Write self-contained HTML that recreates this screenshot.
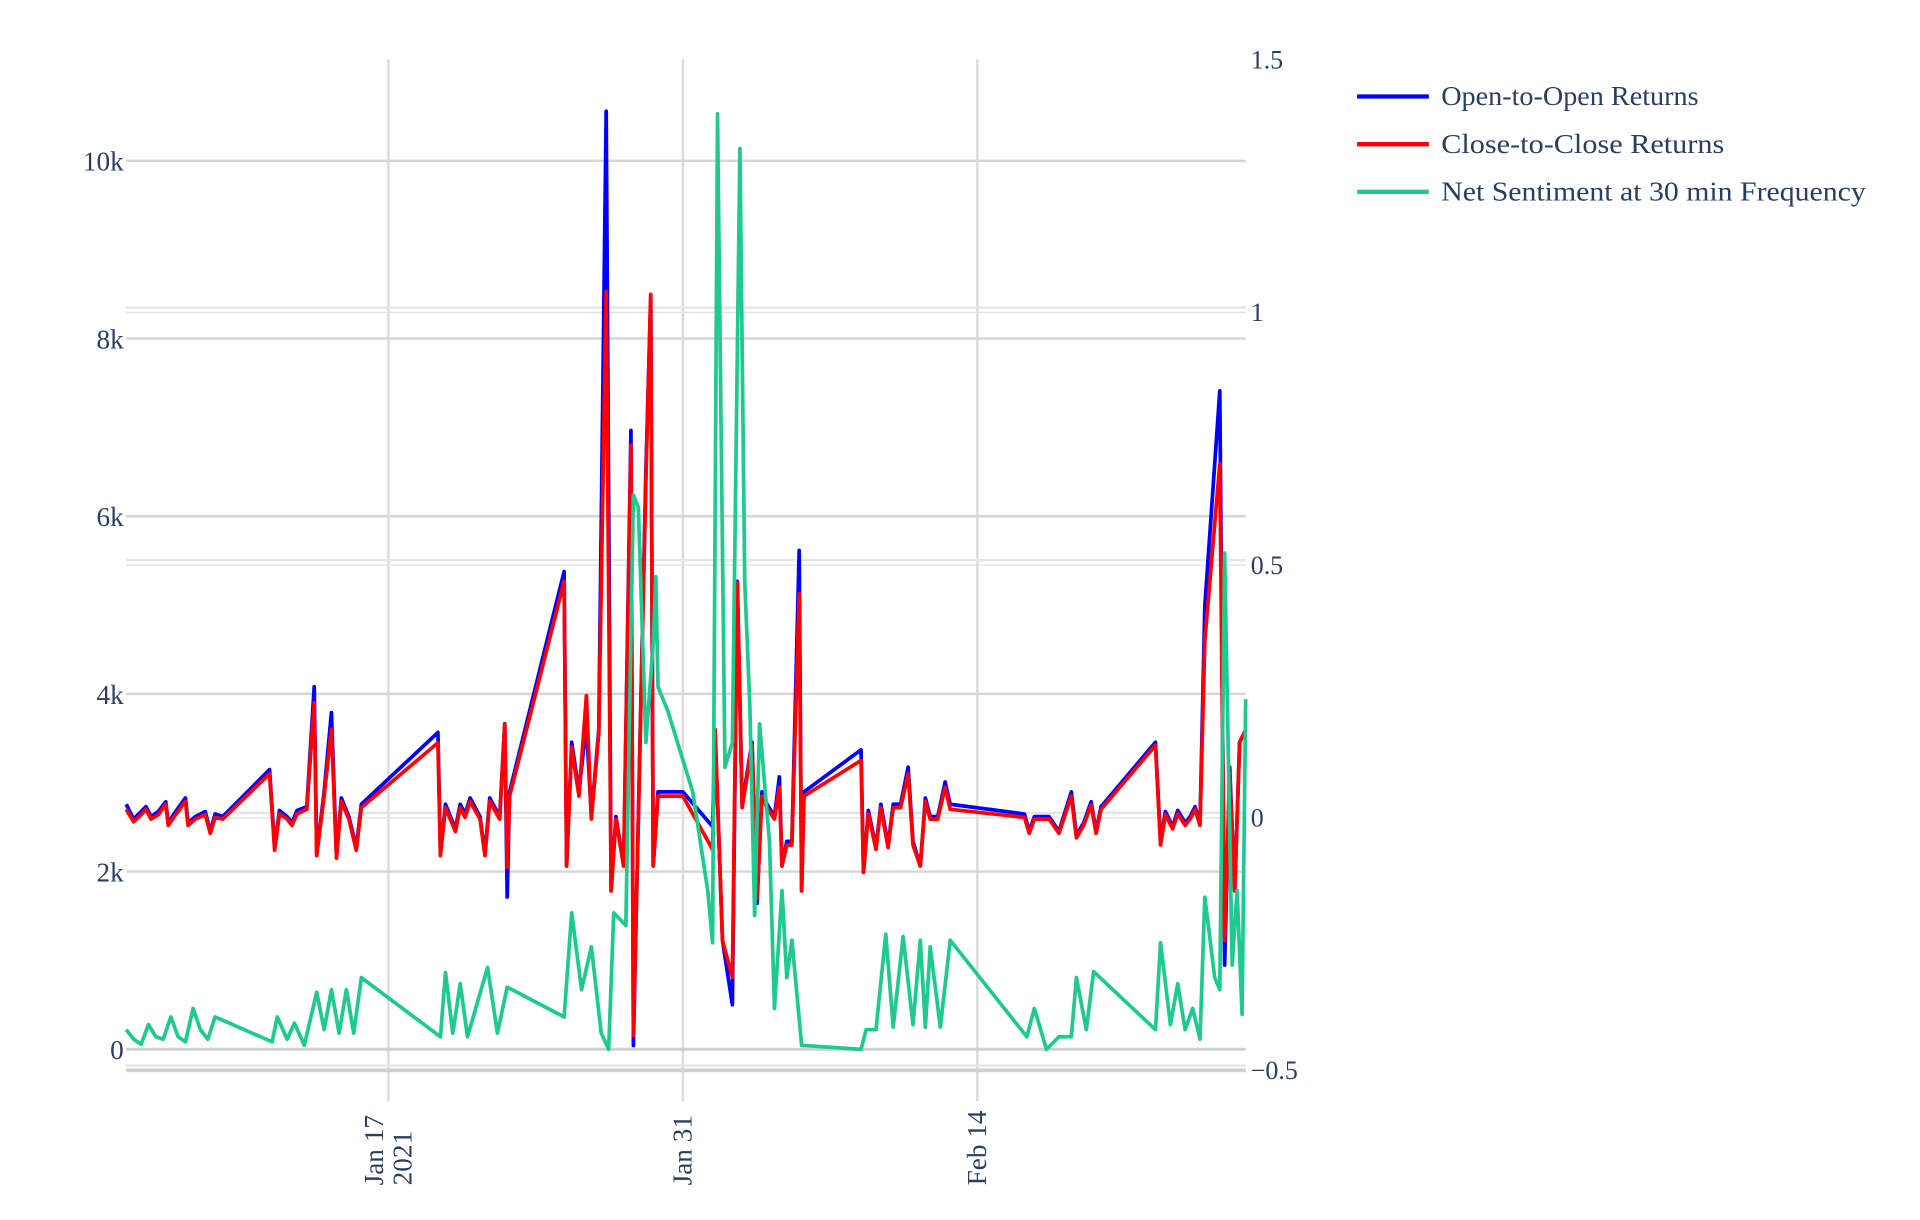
<!DOCTYPE html>
<html><head><meta charset="utf-8"><style>
html,body{margin:0;padding:0;background:#fff;width:1920px;height:1220px;overflow:hidden}
svg text{font-family:"Liberation Serif",serif;fill:#2a3f5f}
</style></head><body>
<svg id="chart" width="1920" height="1220" viewBox="0 0 1552 986" preserveAspectRatio="none" xmlns="http://www.w3.org/2000/svg">
<g id="grid"></g>
<g id="axes"></g>
<g id="series"></g>
<g id="legend"></g>
</svg>
<script>
// day-of-year (Jan 17 = 17, Jan 31 = 31, Feb 14 = 45)
const retDays=[4.53,4.88,5.24,5.47,5.71,6.06,6.41,6.53,6.88,7.35,7.47,7.82,8.29,8.53,8.76,9.12,11.35,11.59,11.82,12.18,12.41,12.65,13.12,13.47,13.59,13.94,14.29,14.53,14.76,15.12,15.47,15.71,19.35,19.47,19.71,20.18,20.41,20.65,20.88,21.35,21.59,21.82,22.29,22.53,22.65,22.76,25.35,25.47,25.71,26.06,26.41,26.65,27.0,27.35,27.59,27.82,28.18,28.53,28.65,28.88,29.24,29.47,29.59,29.82,31.0,32.41,32.53,32.88,33.35,33.59,33.82,34.29,34.53,34.76,35.0,35.35,35.59,35.71,35.94,36.18,36.53,36.65,36.76,39.47,39.59,39.82,40.18,40.41,40.76,41.0,41.35,41.71,41.94,42.29,42.53,42.76,43.12,43.47,43.71,47.24,47.47,47.71,48.41,48.88,49.47,49.71,50.06,50.41,50.65,50.88,53.47,53.71,53.94,54.29,54.53,54.88,55.12,55.35,55.59,55.82,56.53,56.76,57.0,57.24,57.47,57.76];
const openVals=[2758,2591,2675,2730,2619,2675,2786,2549,2675,2828,2549,2619,2675,2452,2647,2619,3148,2271,2688,2619,2549,2688,2730,4081,2201,2897,3789,2173,2828,2619,2271,2758,3566,2201,2758,2480,2758,2647,2828,2619,2201,2828,2619,3664,1713,2897,5377,2062,3455,2897,3664,2619,3594,10559,1783,2619,2062,6965,42,2619,6519,8469,2062,2897,2897,2507,3594,1226,501,5266,2758,3455,1644,2897,2758,2619,3065,2062,2340,2340,5614,1783,2897,3371,1992,2688,2271,2758,2298,2758,2758,3176,2340,2062,2828,2619,2619,3009,2758,2647,2452,2619,2619,2452,2897,2410,2549,2786,2452,2730,3455,2340,2675,2507,2688,2549,2619,2730,2549,4987,7411,947,3176,1783,3455,3594];
const closeVals=[2700,2560,2640,2700,2590,2640,2760,2520,2640,2790,2520,2590,2640,2430,2610,2590,3100,2240,2650,2590,2520,2650,2700,3900,2180,2850,3600,2150,2790,2590,2240,2720,3450,2180,2720,2450,2720,2610,2790,2590,2180,2790,2590,3660,2050,2850,5266,2062,3400,2850,3980,2590,3550,8525,1783,2590,2062,6798,150,2590,6400,8497,2062,2850,2850,2250,3600,1226,808,5250,2720,3420,1700,2850,2720,2590,2950,2062,2300,2300,5126,1783,2850,3250,1992,2650,2250,2720,2270,2720,2720,3100,2300,2062,2790,2590,2590,2950,2700,2610,2430,2590,2590,2430,2850,2380,2520,2750,2430,2700,3420,2300,2640,2480,2650,2520,2590,2700,2520,4600,6589,1226,3100,1783,3455,3594];
const sentDays=[4.53,4.88,5.24,5.59,5.94,6.29,6.65,7.0,7.35,7.71,8.06,8.41,8.76,11.47,11.71,12.18,12.53,13.0,13.59,13.94,14.29,14.65,15.0,15.35,15.71,19.47,19.71,20.06,20.41,20.76,21.71,22.18,22.65,25.35,25.71,26.18,26.65,27.12,27.47,27.71,28.29,28.65,28.88,29.24,29.59,29.71,29.82,30.29,31.47,32.18,32.41,32.65,33.0,33.35,33.71,33.94,34.18,34.41,34.65,35.12,35.35,35.71,35.94,36.18,36.65,39.47,39.71,40.18,40.65,41.0,41.47,41.94,42.29,42.53,42.76,43.24,43.71,47.35,47.71,48.29,48.88,49.47,49.71,50.18,50.53,53.47,53.71,54.18,54.53,54.88,55.24,55.59,55.82,56.29,56.53,56.76,57.12,57.35,57.59,57.76];
const sentVals=[-0.419,-0.438,-0.448,-0.409,-0.433,-0.438,-0.394,-0.433,-0.443,-0.377,-0.419,-0.438,-0.394,-0.443,-0.394,-0.438,-0.406,-0.450,-0.345,-0.419,-0.340,-0.426,-0.340,-0.426,-0.316,-0.433,-0.306,-0.426,-0.328,-0.433,-0.296,-0.426,-0.335,-0.394,-0.188,-0.340,-0.255,-0.426,-0.458,-0.188,-0.213,0.639,0.614,0.149,0.345,0.477,0.259,0.211,0.051,-0.144,-0.247,1.393,0.100,0.149,1.324,0.468,0.223,-0.193,0.186,-0.047,-0.377,-0.144,-0.316,-0.242,-0.450,-0.458,-0.419,-0.419,-0.230,-0.414,-0.235,-0.409,-0.242,-0.414,-0.255,-0.414,-0.242,-0.433,-0.377,-0.458,-0.433,-0.433,-0.316,-0.419,-0.304,-0.419,-0.247,-0.409,-0.328,-0.419,-0.377,-0.438,-0.157,-0.316,-0.340,0.524,-0.291,-0.144,-0.389,0.235];
const leftTicks=[0,2000,4000,6000,8000,10000];
const leftTickLabels=["0","2k","4k","6k","8k","10k"];
const rightTicks=[-0.5,0,0.5,1,1.5];
const rightTickLabels=["\u22120.5","0","0.5","1","1.5"];
const xTicks=[17,31,45];
const xTickLabels=[["Jan 17","2021"],["Jan 31"],["Feb 14"]];
const legendLabels=["Open-to-Open Returns","Close-to-Close Returns","Net Sentiment at 30 min Frequency"];
const legendColors=["#0000ff","#ff0000","#1fc990"];

const NS="http://www.w3.org/2000/svg";
const X0=102,X1=1007,YT=48,YB=865;
const xs=d=>314+(d-17)*17;
const yl=v=>848-v*0.0718;
const yr=v=>661-v*408.5;
function mk(tag,attrs,parent){const e=document.createElementNS(NS,tag);for(const k in attrs)e.setAttribute(k,attrs[k]);parent.appendChild(e);return e;}
const grid=document.getElementById('grid'),axes=document.getElementById('axes'),series=document.getElementById('series'),legend=document.getElementById('legend');

xTicks.forEach((t,i)=>{
  const l=mk('line',{x1:xs(t),x2:xs(t),y1:YT,y2:890,stroke:'#dcdcdc','stroke-width':2},grid);
  
  
  const lines=xTickLabels[i];
  lines.forEach((s,j)=>{
    const tx=mk('text',{transform:`translate(${xs(t)+7+j*23-(lines.length-1)*11.5},958) rotate(-90)`,'font-size':22},axes);
    tx.textContent=s;
    
    
  });
});
rightTicks.forEach((t,i)=>{
  const y=yr(t);
  if(t<1.5){
    const l=mk('line',{x1:X0,x2:X1,y1:y-4,y2:y-4,stroke:'#e6e6e6','stroke-width':2},grid);
    
    
  }
  if(t>-0.5&&t<1.5){const l2=mk('line',{x1:X0,x2:X1,y1:y,y2:y,stroke:'#e0e0e0','stroke-width':1},grid);
  
  }
  const tx=mk('text',{x:1011,y:y+7,'font-size':21},axes);
  tx.textContent=rightTickLabels[i];
  
  
});
leftTicks.forEach((t,i)=>{
  const y=yl(t);
  const l=mk('line',{x1:X0,x2:X1,y1:y,y2:y,stroke:t===0?'#cfcfcf':'#d6d6d6','stroke-width':t===0?2.5:2},grid);
  
  
  const tx=mk('text',{x:100,y:y+8,'font-size':22,'text-anchor':'end'},axes);
  tx.textContent=leftTickLabels[i];
  
  
});
const bottom=mk('line',{x1:X0,x2:X1,y1:YB,y2:YB,stroke:'#d0d0d0','stroke-width':3},grid);



function path(days,vals,fy,color,name){
  const d=days.map((t,i)=>(i?'L':'M')+xs(t).toFixed(1)+','+fy(vals[i]).toFixed(1)).join('');
  const p=mk('path',{d:d,fill:'none',stroke:color,'stroke-width':3,'stroke-linejoin':'round'},series);
  
  
}
path(retDays,openVals,yl,legendColors[0],'open-to-open-line');
path(retDays,closeVals,yl,legendColors[1],'close-to-close-line');
path(sentDays,sentVals,yr,legendColors[2],'net-sentiment-line');

legendLabels.forEach((s,i)=>{
  const y=78+i*38.5;
  const l=mk('line',{x1:1097,x2:1155,y1:y,y2:y,stroke:legendColors[i],'stroke-width':3.5},legend);
  
  
  const tx=mk('text',{x:1165,y:y+7,'font-size':22,'textLength':s.length*10.4,'lengthAdjust':'spacingAndGlyphs'},legend);
  tx.textContent=s;
  
  
});
</script>
</body></html>
